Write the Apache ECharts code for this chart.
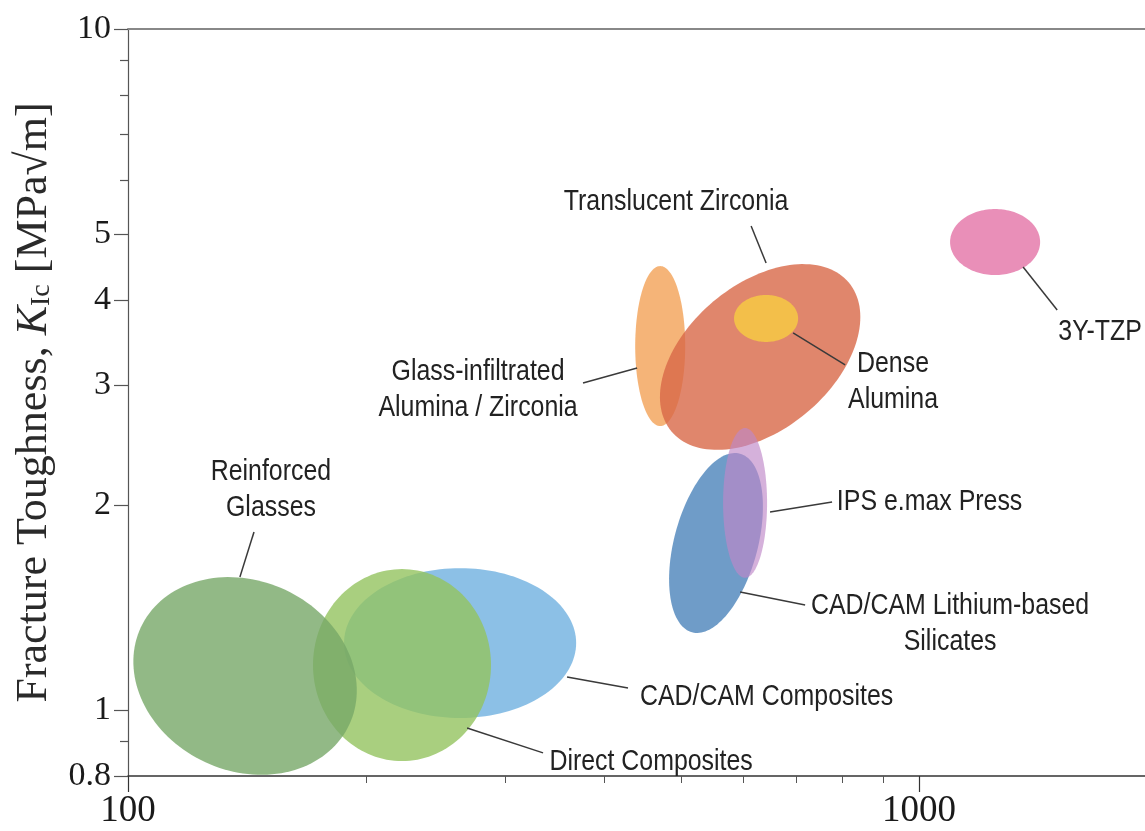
<!DOCTYPE html>
<html><head><meta charset="utf-8">
<script src="https://cdn.jsdelivr.net/npm/echarts@6/dist/echarts.min.js"></script>
<style>html,body{margin:0;padding:0;background:#fff;}#chart{width:1145px;height:831px;}</style>
</head><body><div id="chart"></div>
<script>
// ---- data (flexural strength [MPa] vs fracture toughness [MPa√m]) ----
const materials = ['CAD/CAM Composites','Direct Composites','Reinforced Glasses','Glass-infiltrated Alumina / Zirconia','Translucent Zirconia','Dense Alumina','CAD/CAM Lithium-based Silicates','IPS e.max Press','3Y-TZP'];
const strengthCenter  = [262.9, 222.0, 140.6, 470.7, 629.6, 640.6, 553.7, 602.6, 1247.6];
const toughnessCenter = [1.254, 1.164, 1.122, 3.423, 3.299, 3.758, 1.759, 2.014, 4.866];
// half-extent of each property cloud, in decades (log10 units)
const strengthSpread  = [0.1467, 0.1125, 0.1454, 0.0316, 0.1463, 0.0405, 0.0528, 0.0278, 0.0569];
const toughnessSpread = [0.110, 0.141, 0.1395, 0.1175, 0.1066, 0.0345, 0.1358, 0.110, 0.0485];
const tiltDeg         = [0, 0, -25, 0, 40, 0, -15, 0, 0];

const yTickLabels = [0.8, 1, 2, 3, 4, 5, 10];
const yMinorTicks = [0.9, 6, 7, 8, 9];
const xTickLabels = [100, 1000];
const xMinorTicks = [200, 300, 400, 500, 600, 700, 800, 900];
const xMin = 100, xMax = 1930, yMin = 0.8, yMax = 10;

// annotation labels (anchor in data units) and leader lines
const labelTexts = ['Translucent Zirconia','Dense\nAlumina','Glass-infiltrated\nAlumina / Zirconia','3Y-TZP','IPS e.max Press','CAD/CAM Lithium-based\nSilicates','CAD/CAM Composites','Direct Composites','Reinforced\nGlasses'];
const labelX   = [493.0, 926.9, 277.0, 1693.6, 1031, 1094.4, 641.5, 458.4, 151.6];
const labelY   = [5.57, 3.03, 2.951, 3.59, 2.02, 1.337, 1.045, 0.8389, 2.104];
const leadX1   = [613.3, 693.0, 376.0, 1353.6, 648.0, 593.9, 358.9, 268.3, 144.3];
const leadY1   = [5.136, 3.578, 3.021, 4.472, 1.953, 1.4904, 1.118, 0.941, 1.826];
const leadX2   = [640.6, 806.3, 440.1, 1494.7, 776.3, 717.7, 428.6, 334.7, 138.5];
const leadY2   = [4.533, 3.211, 3.179, 3.868, 2.02, 1.4264, 1.077, 0.865, 1.568];

// ---- styles ----
const fillColors = ['rgba(111,176,224,0.8)','rgba(148,195,95,0.8)','rgba(119,168,104,0.8)','rgba(243,161,86,0.8)','rgba(216,104,71,0.8)','rgba(244,196,72,0.92)','rgba(75,131,186,0.8)','rgba(190,135,200,0.65)','rgba(228,115,166,0.8)'];
const serif = "'Liberation Serif','Times New Roman',serif";
const sans = "'Liberation Sans',Arial,sans-serif";

const L = v => Math.log10(v);
const fmt = v => String(Math.round(Math.pow(10, v) * 10) / 10);

const ellipseData = materials.map((m, i) => [L(strengthCenter[i]), L(toughnessCenter[i]), strengthSpread[i], toughnessSpread[i], tiltDeg[i]]);
const labelData = labelTexts.map((t, i) => [L(labelX[i]), L(labelY[i]), L(leadX1[i]), L(leadY1[i]), L(leadX2[i]), L(leadY2[i])]);

const chart = echarts.init(document.getElementById('chart'), null, {renderer: 'canvas'});
const xBase = {type: 'value', min: L(xMin), max: L(xMax), splitLine: {show: false}};
const yBase = {type: 'value', min: L(yMin), max: L(yMax), splitLine: {show: false}};

chart.setOption({
  backgroundColor: '#fff',
  animation: false,
  grid: {left: 128, right: 0, top: 29, bottom: 55},
  xAxis: [
    Object.assign({}, xBase, {position: 'bottom',
      axisLine: {show: true, onZero: false, lineStyle: {color: '#333', width: 1.5}},
      axisTick: {show: true, customValues: xTickLabels.map(L), length: 16, lineStyle: {color: '#333', width: 1.2}},
      axisLabel: {show: true, customValues: xTickLabels.map(L), formatter: fmt, fontFamily: serif, fontSize: 37, color: '#1a1a1a', margin: 17}}),
    Object.assign({}, xBase, {position: 'bottom',
      axisLine: {show: false, onZero: false},
      axisTick: {show: true, customValues: xMinorTicks.map(L), length: 7, lineStyle: {color: '#555', width: 1}},
      axisLabel: {show: false}}),
    Object.assign({}, xBase, {position: 'top',
      axisLine: {show: true, onZero: false, lineStyle: {color: '#888', width: 2}},
      axisTick: {show: false}, axisLabel: {show: false}})
  ],
  yAxis: [
    Object.assign({}, yBase, {position: 'left',
      axisLine: {show: true, onZero: false, lineStyle: {color: '#555', width: 1.2}},
      axisTick: {show: true, customValues: yTickLabels.map(L), length: 14, lineStyle: {color: '#555', width: 1.2}},
      axisLabel: {show: true, customValues: yTickLabels.map(L), formatter: fmt, fontFamily: serif, fontSize: 34, color: '#1a1a1a', margin: 17},
      name: '{a|Fracture Toughness, }{k|K}{s|Ic}{a| [MPa√m]}',
      nameLocation: 'middle', nameGap: 72, nameRotate: 90,
      nameTextStyle: {fontFamily: serif, fontSize: 44, color: '#2a2a2a',
        rich: {
          a: {fontFamily: serif, fontSize: 44, color: '#2a2a2a'},
          k: {fontFamily: serif, fontSize: 44, fontStyle: 'italic', color: '#2a2a2a'},
          s: {fontFamily: serif, fontSize: 28, color: '#2a2a2a', verticalAlign: 'bottom'}
        }}}),
    Object.assign({}, yBase, {position: 'left',
      axisLine: {show: false, onZero: false},
      axisTick: {show: true, customValues: yMinorTicks.map(L), length: 8, lineStyle: {color: '#555', width: 1.2}},
      axisLabel: {show: false}})
  ],
  series: [
    {
      type: 'custom', name: 'materials', xAxisIndex: 0, yAxisIndex: 0, clip: true,
      data: ellipseData,
      renderItem: function (params, api) {
        const i = params.dataIndex;
        const cx = api.value(0), cy = api.value(1), sx = api.value(2), sy = api.value(3);
        const t = api.value(4) * Math.PI / 180;
        const c = api.coord([cx, cy]);
        const a = api.coord([cx + sx, cy])[0] - c[0];
        const b = c[1] - api.coord([cx, cy + sy])[1];
        const pts = [];
        const n = 144;
        for (let k = 0; k < n; k++) {
          const u = k / n * 2 * Math.PI;
          const X = a * Math.cos(u), Y = b * Math.sin(u);
          pts.push([c[0] + X * Math.cos(t) - Y * Math.sin(t), c[1] - (X * Math.sin(t) + Y * Math.cos(t))]);
        }
        return {type: 'polygon', shape: {points: pts}, style: {fill: fillColors[i], stroke: null}};
      }
    },
    {
      type: 'custom', name: 'labels', xAxisIndex: 0, yAxisIndex: 0, clip: false,
      data: labelData,
      renderItem: function (params, api) {
        const i = params.dataIndex;
        const p = api.coord([api.value(0), api.value(1)]);
        const p1 = api.coord([api.value(2), api.value(3)]);
        const p2 = api.coord([api.value(4), api.value(5)]);
        return {type: 'group', children: [
          {type: 'line', shape: {x1: p1[0], y1: p1[1], x2: p2[0], y2: p2[1]}, style: {stroke: '#3a3a3a', lineWidth: 1.5}},
          {type: 'text', x: p[0], y: p[1], scaleX: 0.83, scaleY: 1,
           style: {text: labelTexts[i], fontFamily: sans, fontSize: 30, fill: '#222', align: 'center', verticalAlign: 'middle', lineHeight: 36}}
        ]};
      }
    }
  ]
});
</script>
</body></html>
